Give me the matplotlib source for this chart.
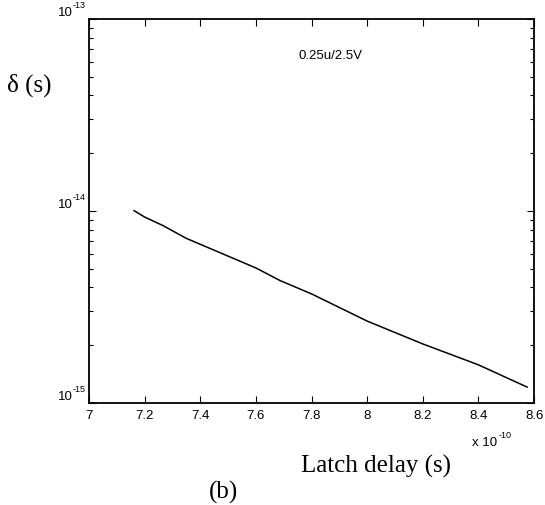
import matplotlib.pyplot as plt
import numpy as np

# latch delay in units of 1e-10 s, delta in s
delay = [7.162, 7.20, 7.267, 7.35, 7.482, 7.6, 7.687, 7.8, 8.0, 8.2, 8.4, 8.575]
delta = [1.004e-14, 9.3e-15, 8.38e-15, 7.2e-15, 5.97e-15, 5.05e-15, 4.34e-15, 3.7e-15,
         2.67e-15, 2.03e-15, 1.58e-15, 1.21e-15]
xticks = [7, 7.2, 7.4, 7.6, 7.8, 8, 8.2, 8.4, 8.6]
xticklabels = ["7", "7.2", "7.4", "7.6", "7.8", "8", "8.2", "8.4", "8.6"]
yticks = [1e-15, 1e-14, 1e-13]
yexps = ["-15", "-14", "-13"]

fig = plt.figure(figsize=(5.45, 5.06), dpi=100)
ax = fig.add_axes([0.1633, 0.2016, 0.8167, 0.7589])

ax.plot(delay, delta, color="black", linewidth=1.1)
ax.set_yscale("log")
ax.set_xlim(7, 8.6)
ax.set_ylim(1e-15, 1e-13)
ax.set_xticks(xticks)
ax.set_xticklabels(xticklabels, family="Liberation Sans", fontsize=9.5)
ax.set_yticks(yticks)
ax.set_yticklabels([])
for v, s in zip(yticks, yexps):
    ax.annotate("10", (7, v), xytext=(-11.5, 0.5), textcoords="offset points",
                ha="right", va="bottom", fontsize=9.5, family="Liberation Sans",
                annotation_clip=False)
    ax.annotate(s, (7, v), xytext=(-11.5, 7), textcoords="offset points",
                ha="left", va="bottom", fontsize=6.5, family="Liberation Sans",
                annotation_clip=False)
ax.tick_params(which="both", direction="in", top=True, right=True, width=0.8)
ax.tick_params(which="major", length=5, pad=4)
ax.tick_params(which="minor", length=3)
for sp in ax.spines.values():
    sp.set_linewidth(1.3)

ax.text(0.47, 0.905, "0.25u/2.5V", transform=ax.transAxes, fontsize=9.5,
        family="Liberation Sans", ha="left", va="center")

fig.text(0.013, 0.832, "δ (s)", fontsize=18, family="Liberation Serif", ha="left", va="center")
fig.text(0.689, 0.078, "Latch delay (s)", fontsize=18, family="Liberation Serif", ha="center", va="center")
fig.text(0.411, 0.026, "(b)", fontsize=18, family="Liberation Serif", ha="center", va="center")
fig.text(0.866, 0.125, "x 10", fontsize=9.5, family="Liberation Sans", ha="left", va="center")
fig.text(0.914, 0.139, "-10", fontsize=6.5, family="Liberation Sans", ha="left", va="center")

fig.savefig("out.png", dpi=100)
